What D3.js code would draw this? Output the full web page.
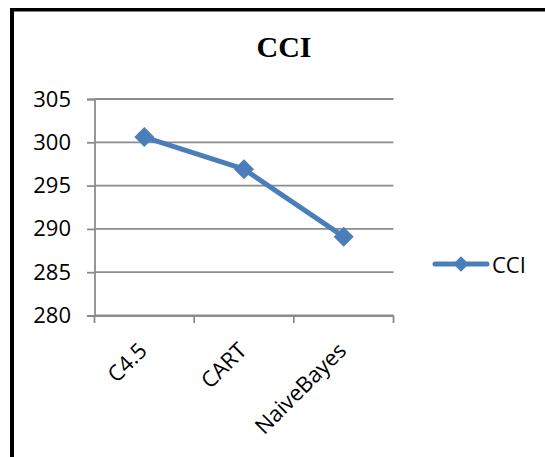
<!DOCTYPE html>
<html>
<head>
<meta charset="utf-8">
<script src="https://cdn.jsdelivr.net/npm/d3@7"></script>
<style>
  html, body { margin: 0; padding: 0; background: #fff; }
  svg { display: block; }
</style>
</head>
<body>
<div id="chart"></div>
<script>
const categories = ["C4.5", "CART", "NaiveBayes"];
const values = [300.6, 296.9, 289.1];
const seriesName = "CCI";
const yTicks = [280, 285, 290, 295, 300, 305];
const title = "CCI";

const W = 545, H = 457;
const svg = d3.select("#chart").append("svg").attr("width", W).attr("height", H);

// outer frame (top and left edges visible)
svg.append("line").attr("x1", 10).attr("x2", W).attr("y1", 9.75).attr("y2", 9.75)
  .attr("stroke", "#000").attr("stroke-width", 3.5);
svg.append("line").attr("x1", 12).attr("x2", 12).attr("y1", 8).attr("y2", H)
  .attr("stroke", "#000").attr("stroke-width", 4);

const x = d3.scaleBand().domain(categories).range([94.5, 393.5]).padding(0);
const y = d3.scaleLinear().domain([280, 305]).range([315.5, 99]);

const gridColor = "#8c8c8c";
const font = "'Open Sans', 'Noto Sans', sans-serif";

// gridlines
svg.append("g").selectAll("line").data(yTicks).join("line")
  .attr("x1", 94.5).attr("x2", 393.5)
  .attr("y1", d => y(d)).attr("y2", d => y(d))
  .attr("stroke", gridColor).attr("stroke-width", 1.8);

// y axis
const yAxis = d3.axisLeft(y).tickValues(yTicks).tickSize(7.5).tickPadding(16).tickFormat(d3.format("d"));
const gy = svg.append("g").attr("transform", "translate(94.5,0)").call(yAxis);
gy.select(".domain").attr("stroke", gridColor).attr("stroke-width", 1.8);
gy.selectAll(".tick line").attr("stroke", gridColor).attr("stroke-width", 1.8);
gy.selectAll(".tick text").attr("font-family", font).attr("font-size", 22).attr("fill", "#000");

// x axis
const xAxis = d3.axisBottom(x).tickSize(0).tickFormat("");
const gx = svg.append("g").attr("transform", "translate(0,315.5)").call(xAxis);
gx.select(".domain").attr("stroke", gridColor).attr("stroke-width", 1.8);
const bounds = categories.map(c => x(c)).concat([x(categories[categories.length - 1]) + x.bandwidth()]);
gx.selectAll(".bnd").data(bounds).join("line").attr("class", "bnd")
  .attr("x1", d => d).attr("x2", d => d).attr("y1", 0).attr("y2", 7.5)
  .attr("stroke", gridColor).attr("stroke-width", 1.8);

svg.append("g").selectAll("text").data(categories).join("text")
  .attr("transform", d => `translate(${x(d) + x.bandwidth() / 2 + 4},352) rotate(-45)`)
  .attr("text-anchor", "end")
  .attr("font-family", font).attr("font-size", 22).attr("fill", "#000")
  .text(d => d);

// series
const color = "#4a7ebb";
const pts = categories.map((c, i) => [x(c) + x.bandwidth() / 2, y(values[i])]);
svg.append("path").attr("d", d3.line()(pts))
  .attr("fill", "none").attr("stroke", color).attr("stroke-width", 5)
  .attr("stroke-linejoin", "round").attr("stroke-linecap", "round");
const diamond = d3.symbol().type(d3.symbolDiamond2 || d3.symbolSquare).size(200);
svg.append("g").selectAll("path").data(pts).join("path")
  .attr("transform", d => `translate(${d[0]},${d[1]}) rotate(45)`)
  .attr("d", d3.symbol().type(d3.symbolSquare).size(200))
  .attr("fill", color);

// legend
svg.append("line").attr("x1", 435).attr("x2", 487).attr("y1", 264).attr("y2", 264)
  .attr("stroke", color).attr("stroke-width", 5).attr("stroke-linecap", "round");
svg.append("path").attr("transform", "translate(461,264) rotate(45)")
  .attr("d", d3.symbol().type(d3.symbolSquare).size(120)).attr("fill", color);
svg.append("text").attr("x", 492).attr("y", 272.5)
  .attr("font-family", font).attr("font-size", 22).attr("fill", "#000").text(seriesName);

// title
svg.append("text").attr("x", 284).attr("y", 56.5).attr("text-anchor", "middle")
  .attr("font-family", "'Liberation Serif', 'Times New Roman', serif")
  .attr("font-weight", "bold").attr("font-size", 30).attr("fill", "#000").text(title);
</script>
</body>
</html>
